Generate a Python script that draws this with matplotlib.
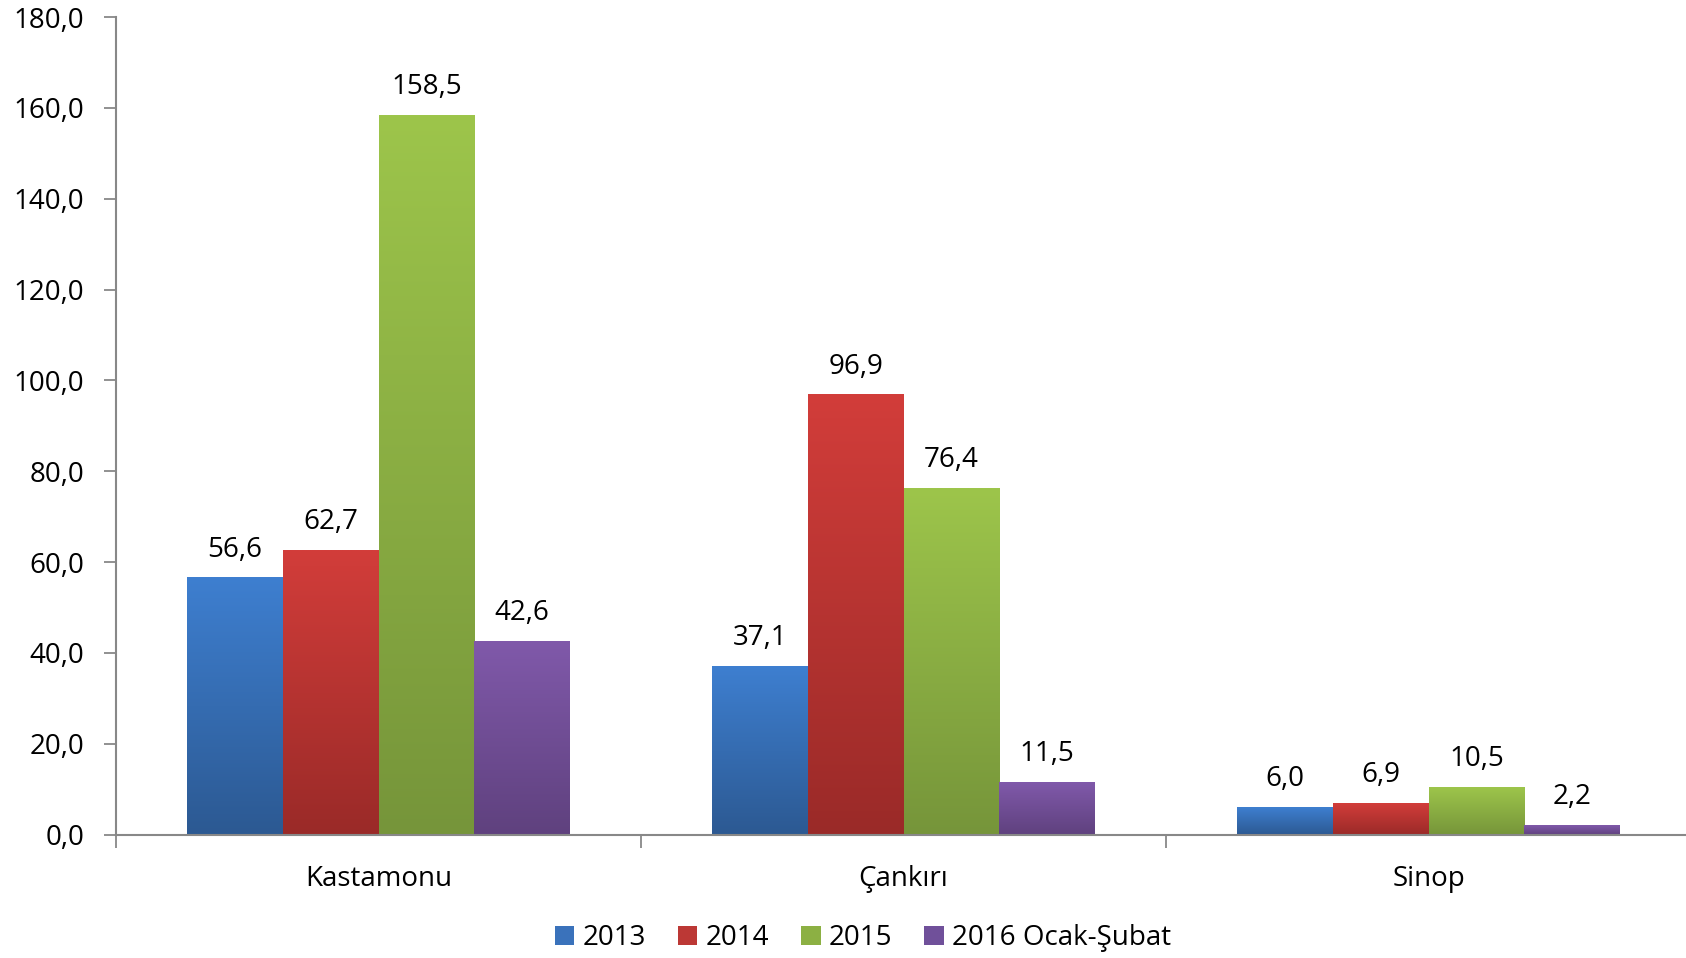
import matplotlib
matplotlib.use("Agg")
import matplotlib.pyplot as plt
import numpy as np
from matplotlib.patches import Patch
from matplotlib.colors import LinearSegmentedColormap

categories = ["Kastamonu", "Çankırı", "Sinop"]
series_names = ["2013", "2014", "2015", "2016 Ocak-Şubat"]
values = {
    "2013": [56.6, 37.1, 6.0],
    "2014": [62.7, 96.9, 6.9],
    "2015": [158.5, 76.4, 10.5],
    "2016 Ocak-Şubat": [42.6, 11.5, 2.2],
}
yticks = [0, 20, 40, 60, 80, 100, 120, 140, 160, 180]

top_colors = ["#3e7fd0", "#d23d3a", "#9dc54b", "#8059aa"]
bot_colors = ["#2c5992", "#9a2a28", "#76953a", "#5f417e"]
mid_colors = ["#3a72bb", "#bc3835", "#8cb043", "#70509a"]

plt.rcParams['font.family'] = ['Open Sans', 'DejaVu Sans']
FS = 20

fig = plt.figure(figsize=(16.86, 9.58), dpi=100)
ax = fig.add_axes([116/1686, 1-834.5/958, 1575/1686, (834.5-17)/958])

n = len(series_names)
bw = 0.1825
x = np.arange(len(categories))
for i, s in enumerate(series_names):
    cmap = LinearSegmentedColormap.from_list("g", [bot_colors[i], top_colors[i]])
    offs = (i - (n-1)/2) * bw
    for j, v in enumerate(values[s]):
        x0 = x[j] + offs - bw/2
        grad = np.linspace(0, 1, 256).reshape(-1, 1)
        ax.imshow(grad, extent=(x0, x0+bw, 0, v), origin='lower', aspect='auto',
                  cmap=cmap, zorder=2, interpolation='bilinear')
        ax.annotate(f"{v:.1f}".replace(".", ","), (x[j]+offs, v), xytext=(0, 10),
                    textcoords='offset points', ha='center', va='bottom', fontsize=FS)

ax.set_xlim(-0.5, 2.5)
ax.set_ylim(0, 180)
ax.set_yticks(yticks)
ax.set_yticklabels([f"{t:.1f}".replace(".", ",") for t in yticks], fontsize=FS)
ax.set_xticks([-0.5, 0.5, 1.5, 2.5])
ax.set_xticklabels([])
ax.set_xticks(x, minor=True)
ax.set_xticklabels(categories, minor=True, fontsize=FS)
ax.tick_params(axis='x', which='minor', length=0, pad=22)
ax.tick_params(axis='x', which='major', length=9, width=1.3, color='#888888', direction='out')
ax.tick_params(axis='y', length=9, width=1.3, color='#888888', direction='out', pad=14)
for sp in ['top', 'right']:
    ax.spines[sp].set_visible(False)
for sp in ['left', 'bottom']:
    ax.spines[sp].set_color('#888888')
    ax.spines[sp].set_linewidth(1.5)
ax.spines['bottom'].set_zorder(5)

handles = [Patch(facecolor=mid_colors[i], label=series_names[i]) for i in range(n)]
fig.legend(handles=handles, loc='center', bbox_to_anchor=(863/1686, 1-938/958), ncol=4,
           frameon=False, fontsize=FS, handlelength=0.7, handleheight=0.7,
           handletextpad=0.3, columnspacing=1.15)

fig.savefig("out.png", dpi=100)
